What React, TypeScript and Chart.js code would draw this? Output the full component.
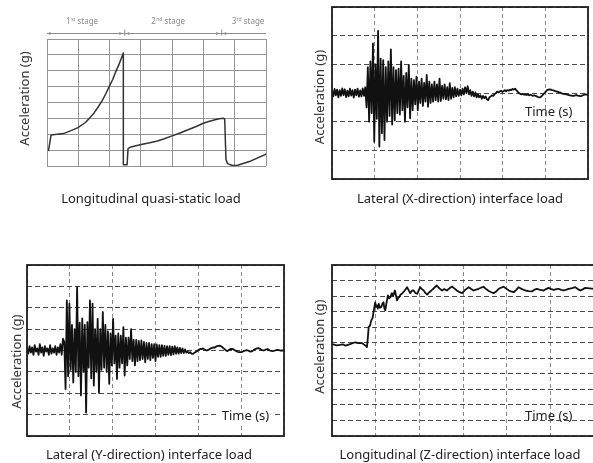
import React, { useEffect, useRef } from "react";
import { Chart, registerables } from "chart.js";

Chart.register(...registerables);

// ---------- Panel 1: longitudinal quasi-static load ----------
const QS_TIME = [0.05, 0.13, 0.32, 0.53, 0.75, 0.99, 1.23, 1.5, 1.63, 1.76, 1.88, 2.0, 2.1, 2.19, 2.3, 2.44, 2.44, 2.56, 2.59, 2.68, 3.01, 3.25, 3.53, 3.75, 4.0, 4.25, 4.49, 4.75, 5.0, 5.17, 5.34, 5.5, 5.64, 5.68, 5.72, 5.77, 5.93, 6.09, 6.52, 7.0];
const QS_ACCEL = [0.99, 1.96, 2.0, 2.04, 2.21, 2.42, 2.74, 3.33, 3.7, 4.1, 4.55, 5.05, 5.45, 5.9, 6.4, 7.12, 0.08, 0.08, 1.09, 1.2, 1.35, 1.45, 1.58, 1.72, 1.9, 2.08, 2.27, 2.47, 2.69, 2.8, 2.9, 2.97, 3.01, 2.95, 0.42, 0.15, 0.03, 0.05, 0.32, 0.74];
const STAGE_BOUNDS = [2.47, 5.57];
const STAGE_NUM = ["1", "2", "3"];
const STAGE_SUFFIX = ["st", "nd", "rd"];
const STAGE_LABEL_AT = [1.12, 3.87, 6.42];

// ---------- Panel 2: lateral X-direction ----------
const X_SAMPLE_STEP = 0.03;
const X_ACCEL = [
  0.08, -0.12, 0.14, -0.08, 0.12, -0.15, 0.1, -0.1, 0.16, -0.07, 0.13, -0.14, 0.08, -0.12, 0.15, -0.09, 0.1, -0.16, 0.12, -0.08, 0.15, -0.13, 0.09, -0.12, 0.16, -0.1,
  0.2, -0.5, 0.9, -1.0, 1.1, -0.7, 1.73, -1.7, 1.0, -0.9, 2.17, -1.87, 1.2, -1.4, 1.15, -1.64, 0.9, -1.0, 1.1, -0.8, 1.52, -1.1, 0.9, -0.95,
  0.8, -0.7, 0.85, -0.75, 1.1, -0.6, 0.6, -1.0, 0.7, -0.5, 0.98, -0.88, 0.5, -0.6, 0.45, -0.4, 0.57, -0.6, 0.4, -0.35,
  0.5, -0.45, 0.35, -0.3, 0.63, -0.48, 0.4, -0.35, 0.3, -0.3, 0.4, -0.25, 0.3, -0.3, 0.5, -0.28, 0.25, -0.2, 0.3, -0.22,
  0.2, -0.25, 0.34, -0.2, 0.18, -0.15, 0.2, -0.12, 0.15, -0.1, 0.12, -0.08, 0.15, -0.05, 0.2, 0.0, 0.24, -0.05, 0.1, -0.1,
  0.05, -0.12, 0.02, -0.15, -0.05, -0.15, -0.08, -0.2, -0.1, -0.18, -0.12, -0.22, -0.25, -0.15, -0.12, -0.08, -0.1, -0.05, 0.0, 0.05,
  0.02, 0.05, 0.08, 0.04, 0.06, 0.1, 0.06, 0.1, 0.08, 0.12, 0.1, 0.14, 0.12, 0.15, 0.1, 0.05, 0.0, -0.03, -0.05, -0.03,
  -0.06, -0.05, -0.07, -0.05, -0.08, -0.06, -0.08, -0.1, -0.08, -0.1, -0.12, -0.14, -0.15, -0.14, -0.1, -0.05, 0.0, 0.05, 0.1, 0.12,
  0.13, 0.12, 0.1, 0.09, 0.07, 0.06, 0.05, 0.03, 0.02, 0.0, -0.02, -0.03, -0.04, -0.05, -0.06, -0.07, -0.08, -0.09, -0.1, -0.1,
  -0.08, -0.07, -0.09, -0.1, -0.11, -0.1, -0.08, -0.06, -0.05, -0.06, -0.07,
];

// ---------- Panel 3: lateral Y-direction ----------
const Y_SAMPLE_STEP = 0.03;
const Y_ACCEL = [
  0.1, -0.15, 0.2, -0.1, 0.15, -0.2, 0.25, -0.05, 0.1, -0.2, 0.3, -0.1, 0.15, -0.25, 0.2, -0.05, 0.1, -0.2, 0.25, -0.15,
  0.1, -0.1, 0.2, -0.2, 0.15, -0.1, 0.3, -0.2, 0.55, 0.4,
  -1.8, 2.34, -1.2, 2.19, -0.9, 1.2, -1.5, 1.0, -1.0, 2.97, -1.2, 1.3, -2.1, 1.5, -1.0, 1.2, -2.9, 1.33, -0.8, 2.34,
  -1.3, 2.19, -1.64, 1.0, -1.0, 1.48, -1.98, 1.0, -0.9, 1.8, -0.8, 1.2, -1.0, 0.9, -1.56, 0.8, -0.7, 1.48, -0.6, 0.7,
  -1.33, 0.8, -0.8, 0.7, -0.6, 1.09, -1.17, 0.6, -0.7, 0.6, -0.4, 1.0, -0.5, 0.5, -0.7, 0.5, -0.5, 0.45, -0.45, 0.47,
  -0.4, 0.4, -0.55, 0.35, -0.4, 0.35, -0.45, 0.3, -0.35, 0.3, -0.5,
  0.28, -0.3, 0.25, -0.3, 0.25, -0.25, 0.22, -0.25, 0.2, -0.2, 0.2, -0.22, 0.18, -0.18, 0.2, -0.15, 0.15, -0.15, 0.12, -0.12,
  0.1, -0.12, 0.05, -0.1,
  -0.05, -0.12, -0.08, -0.15, -0.16, -0.12, -0.08, -0.05, 0.0, 0.05, 0.08, 0.06, 0.1, 0.05, 0.02, 0.0, 0.03, 0.06, 0.1, 0.12,
  0.15, 0.13, 0.18, 0.2, 0.22, 0.23, 0.2, 0.15, 0.1, 0.05, 0.0, -0.03, 0.02, 0.06, 0.08, 0.07, 0.04, 0.0, -0.03, -0.06,
  -0.08, -0.08, -0.08, -0.05, -0.02, 0.0, 0.02, 0.0, -0.03, -0.05, -0.04, 0.0, 0.05, 0.08, 0.1, 0.11, 0.09, 0.05, 0.02, 0.0,
  0.02, 0.05, 0.06, 0.04, 0.0, -0.02, -0.03, -0.02, 0.0, 0.02, 0.03, 0.02, 0.0, -0.01, 0.0, 0.01,
];

// ---------- Panel 4: longitudinal Z-direction ----------
const Z_TIME = [0, 0.05, 0.1, 0.18, 0.25, 0.31, 0.4, 0.53, 0.6, 0.69, 0.76, 0.8, 0.82, 0.84, 0.87, 0.9, 0.93, 0.95, 0.99, 1.01, 1.03, 1.05, 1.07, 1.1, 1.13, 1.16, 1.18, 1.2, 1.22, 1.25, 1.28, 1.31, 1.34, 1.37, 1.4, 1.44, 1.46, 1.49, 1.52, 1.54, 1.57, 1.6, 1.65, 1.72, 1.76, 1.79, 1.83, 1.87, 1.91, 1.95, 1.99, 2.02, 2.06, 2.1, 2.14, 2.18, 2.23, 2.29, 2.35, 2.4, 2.46, 2.52, 2.57, 2.63, 2.69, 2.75, 2.8, 2.86, 2.92, 2.98, 3.05, 3.13, 3.19, 3.24, 3.3, 3.36, 3.42, 3.47, 3.53, 3.59, 3.65, 3.7, 3.76, 3.82, 3.88, 3.93, 3.99, 4.05, 4.1, 4.16, 4.22, 4.27, 4.35, 4.43, 4.5, 4.58, 4.64, 4.69, 4.77, 4.85, 4.9, 4.96, 5.02, 5.08, 5.14, 5.19, 5.25, 5.31, 5.37, 5.42, 5.5, 5.57, 5.63, 5.69, 5.75, 5.8, 5.9, 6.0];
const Z_ACCEL = [5.9, 5.88, 5.83, 5.86, 5.9, 5.81, 5.9, 6.03, 5.98, 5.97, 5.83, 5.72, 6.3, 7.0, 7.1, 7.44, 7.6, 7.97, 8.6, 8.3, 8.4, 8.2, 8.5, 8.25, 8.3, 8.55, 8.6, 8.2, 8.08, 8.6, 9.04, 8.85, 8.95, 9.19, 9.0, 9.36, 9.1, 8.72, 8.9, 8.93, 9.1, 9.15, 9.3, 9.57, 9.35, 9.19, 9.35, 9.36, 9.2, 9.15, 9.4, 9.57, 9.45, 9.36, 9.2, 9.1, 9.25, 9.4, 9.55, 9.68, 9.5, 9.36, 9.45, 9.36, 9.5, 9.62, 9.5, 9.36, 9.25, 9.19, 9.4, 9.57, 9.45, 9.36, 9.42, 9.47, 9.55, 9.6, 9.45, 9.33, 9.25, 9.19, 9.3, 9.47, 9.55, 9.6, 9.48, 9.36, 9.3, 9.25, 9.4, 9.57, 9.45, 9.36, 9.32, 9.3, 9.42, 9.47, 9.4, 9.36, 9.45, 9.53, 9.45, 9.4, 9.45, 9.47, 9.4, 9.36, 9.42, 9.47, 9.52, 9.57, 9.45, 9.36, 9.45, 9.53, 9.5, 9.47];

const Y_TITLE = "Acceleration (g)";
const X_NOTE = "Time (s)";
const CAPTIONS = [
  "Longitudinal quasi-static load",
  "Lateral (X-direction) interface load",
  "Lateral (Y-direction) interface load",
  "Longitudinal (Z-direction) interface load",
];

const FONT = '"Noto Sans", "Open Sans", sans-serif';

type TextItem = { text: string; x: number; y: number; rot?: boolean; size: number; color: string; bg?: boolean };

function decorPlugin(opts: { frame?: { color: string; width: number }; texts: TextItem[]; stages?: boolean }) {
  return {
    id: "decor",
    afterDraw(chart: any) {
      const ctx: CanvasRenderingContext2D = chart.ctx;
      const a = chart.chartArea;
      ctx.save();
      if (opts.frame) {
        ctx.strokeStyle = opts.frame.color;
        ctx.lineWidth = opts.frame.width;
        ctx.strokeRect(a.left, a.top, a.right - a.left, a.bottom - a.top);
      }
      for (const t of opts.texts) {
        ctx.save();
        ctx.font = `${t.size}px ${FONT}`;
        ctx.textAlign = "center";
        ctx.textBaseline = "middle";
        ctx.translate(t.x, t.y);
        if (t.rot) ctx.rotate(-Math.PI / 2);
        if (t.bg) {
          const w = ctx.measureText(t.text).width;
          ctx.fillStyle = "#ffffff";
          ctx.fillRect(-w / 2 - 3, -t.size * 0.6, w + 6, t.size * 1.2);
        }
        ctx.fillStyle = t.color;
        ctx.fillText(t.text, 0, 0);
        ctx.restore();
      }
      if (opts.stages) {
        const xs = chart.scales.x;
        const y = 33.5;
        const col = "#8c8c8c";
        ctx.strokeStyle = col;
        ctx.fillStyle = col;
        ctx.lineWidth = 1;
        ctx.beginPath();
        ctx.moveTo(xs.getPixelForValue(xs.min), y);
        ctx.lineTo(xs.getPixelForValue(xs.max), y);
        ctx.stroke();
        const arrow = (px: number, dir: number) => {
          ctx.beginPath();
          ctx.moveTo(px, y);
          ctx.lineTo(px - dir * 3.5, y - 1.6);
          ctx.lineTo(px - dir * 3.5, y + 1.6);
          ctx.closePath();
          ctx.fill();
        };
        arrow(xs.getPixelForValue(xs.min), -1);
        for (const b of STAGE_BOUNDS) {
          const p = xs.getPixelForValue(b);
          arrow(p - 1.5, 1);
          arrow(p + 1.5, -1);
          ctx.beginPath();
          ctx.moveTo(p + 0.5, y - 4);
          ctx.lineTo(p + 0.5, y + 2);
          ctx.stroke();
        }
        for (let i = 0; i < STAGE_NUM.length; i++) {
          const cx = xs.getPixelForValue(STAGE_LABEL_AT[i]);
          const big = `8px ${FONT}`;
          const small = `5px ${FONT}`;
          ctx.font = big;
          const w1 = ctx.measureText(STAGE_NUM[i]).width;
          const w3 = ctx.measureText(" stage").width;
          ctx.font = small;
          const w2 = ctx.measureText(STAGE_SUFFIX[i]).width;
          const x0 = cx - (w1 + w2 + w3) / 2;
          ctx.textAlign = "left";
          ctx.textBaseline = "alphabetic";
          ctx.fillStyle = "#8a8a8a";
          ctx.font = big;
          ctx.fillText(STAGE_NUM[i], x0, 24);
          ctx.font = small;
          ctx.fillText(STAGE_SUFFIX[i], x0 + w1 + 0.3, 21);
          ctx.font = big;
          ctx.fillText(" stage", x0 + w1 + w2 + 0.3, 24);
        }
      }
      ctx.restore();
    },
  };
}

function makeScales(xmax: number, ymin: number, ymax: number, colX: string, colY: string, dashX: number[], dashY: number[]) {
  return {
    x: {
      type: "linear" as const,
      min: 0,
      max: xmax,
      ticks: { display: false, stepSize: 1 },
      grid: { color: colX, lineWidth: 1, drawTicks: false },
      border: { display: false, dash: dashX },
    },
    y: {
      type: "linear" as const,
      min: ymin,
      max: ymax,
      ticks: { display: false, stepSize: 1 },
      grid: { color: colY, lineWidth: 1, drawTicks: false },
      border: { display: false, dash: dashY },
    },
  };
}

function lineDataset(points: { x: number; y: number }[], color: string, width: number) {
  return {
    data: points,
    borderColor: color,
    borderWidth: width,
    pointRadius: 0,
    tension: 0,
    fill: false,
    borderJoinStyle: "round" as const,
    borderCapStyle: "round" as const,
  };
}

type PanelDef = {
  left: number;
  top: number;
  width: number;
  height: number;
  build: () => any;
};

const DASH_H = [5, 3];
const DASH_V = [4, 3];

const panels: PanelDef[] = [
  {
    left: 0,
    top: 0,
    width: 296,
    height: 230,
    build: () => ({
      type: "line",
      data: { datasets: [lineDataset(QS_TIME.map((x, i) => ({ x, y: QS_ACCEL[i] })), "#333", 1.5)] },
      options: {
        responsive: false,
        animation: false,
        events: [],
        layout: { padding: { left: 47, top: 39, right: 30, bottom: 64 } },
        plugins: { legend: { display: false }, tooltip: { enabled: false } },
        scales: makeScales(7, 0, 8, "#959595", "#959595", [], []),
      },
      plugins: [
        decorPlugin({
          stages: true,
          texts: [
            { text: Y_TITLE, x: 25.5, y: 98.5, rot: true, size: 13, color: "#333" },
            { text: CAPTIONS[0], x: 151, y: 199, size: 13, color: "#222" },
          ],
        }),
      ],
    }),
  },
  {
    left: 296,
    top: 0,
    width: 297,
    height: 230,
    build: () => ({
      type: "line",
      data: { datasets: [lineDataset(X_ACCEL.map((y, i) => ({ x: i * X_SAMPLE_STEP, y })), "#111", 1.8)] },
      options: {
        responsive: false,
        animation: false,
        events: [],
        layout: { padding: { left: 36, top: 7, right: 5, bottom: 51 } },
        plugins: { legend: { display: false }, tooltip: { enabled: false } },
        scales: makeScales(6, -3, 3, "#8a8a8a", "#4a4a4a", DASH_V, DASH_H),
      },
      plugins: [
        decorPlugin({
          frame: { color: "#1e1e1e", width: 1.8 },
          texts: [
            { text: Y_TITLE, x: 24.3, y: 97, rot: true, size: 13, color: "#333" },
            { text: X_NOTE, x: 252.7, y: 112.7, size: 13, color: "#222" },
            { text: CAPTIONS[1], x: 164, y: 199, size: 13, color: "#222" },
          ],
        }),
      ],
    }),
  },
  {
    left: 0,
    top: 232,
    width: 296,
    height: 231,
    build: () => ({
      type: "line",
      data: { datasets: [lineDataset(Y_ACCEL.map((y, i) => ({ x: i * Y_SAMPLE_STEP, y })), "#111", 1.8)] },
      options: {
        responsive: false,
        animation: false,
        events: [],
        layout: { padding: { left: 27, top: 33, right: 12, bottom: 27 } },
        plugins: { legend: { display: false }, tooltip: { enabled: false } },
        scales: makeScales(6, -4, 4, "#8a8a8a", "#4a4a4a", DASH_V, DASH_H),
      },
      plugins: [
        decorPlugin({
          frame: { color: "#1e1e1e", width: 1.8 },
          texts: [
            { text: Y_TITLE, x: 17, y: 129.7, rot: true, size: 13, color: "#333" },
            { text: X_NOTE, x: 245.5, y: 184.7, size: 13, color: "#222", bg: true },
            { text: CAPTIONS[2], x: 149, y: 223, size: 13, color: "#222" },
          ],
        }),
      ],
    }),
  },
  {
    left: 296,
    top: 232,
    width: 300,
    height: 231,
    build: () => ({
      type: "line",
      data: { datasets: [lineDataset(Z_TIME.map((x, i) => ({ x, y: Z_ACCEL[i] })), "#111", 1.8)] },
      options: {
        responsive: false,
        animation: false,
        events: [],
        layout: { padding: { left: 36, top: 33, right: 2, bottom: 27 } },
        plugins: { legend: { display: false }, tooltip: { enabled: false } },
        scales: makeScales(6, 0, 11, "#8a8a8a", "#4a4a4a", DASH_V, DASH_H),
      },
      plugins: [
        decorPlugin({
          frame: { color: "#1e1e1e", width: 1.8 },
          texts: [
            { text: Y_TITLE, x: 24, y: 114.7, rot: true, size: 13, color: "#333" },
            { text: X_NOTE, x: 252.7, y: 184, size: 13, color: "#222" },
            { text: CAPTIONS[3], x: 164, y: 223, size: 13, color: "#222" },
          ],
        }),
      ],
    }),
  },
];

function Panel({ def }: { def: PanelDef }) {
  const ref = useRef<HTMLCanvasElement | null>(null);
  useEffect(() => {
    if (!ref.current) return;
    const chart = new Chart(ref.current, def.build());
    return () => chart.destroy();
  }, [def]);
  return (
    <canvas
      ref={ref}
      width={def.width}
      height={def.height}
      style={{ position: "absolute", left: def.left, top: def.top, width: def.width, height: def.height }}
    />
  );
}

export default function App() {
  return (
    <div
      style={{
        position: "absolute",
        left: 0,
        top: 0,
        width: 593,
        height: 463,
        overflow: "hidden",
        background: "#ffffff",
      }}
    >
      {panels.map((p, i) => (
        <Panel key={i} def={p} />
      ))}
    </div>
  );
}
